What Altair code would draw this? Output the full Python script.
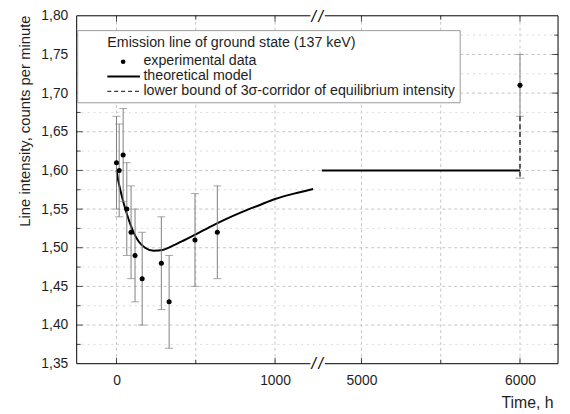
import altair as alt
import pandas as pd

# ---------------- data ----------------
exp_time = [0, 17, 42, 65, 92, 117, 162, 283, 332, 495, 636, 6000]
exp_intensity = [1.61, 1.60, 1.62, 1.55, 1.52, 1.49, 1.46, 1.48, 1.43, 1.51, 1.52, 1.71]
exp_error = [0.06, 0.06, 0.06, 0.06, 0.06, 0.06, 0.06, 0.06, 0.06, 0.06, 0.06, 0.04]

model_time = [0, 10, 25, 45, 65, 90, 110, 140, 180, 235, 290, 350, 430, 515,
              600, 680, 790, 900, 1000, 1120, 1240]
model_intensity = [1.600, 1.588, 1.574, 1.558, 1.544, 1.529, 1.519, 1.508, 1.500,
                   1.496, 1.497, 1.502, 1.510, 1.519, 1.528, 1.536, 1.546, 1.555,
                   1.563, 1.570, 1.576]

equilibrium_time = [4750, 6000]
equilibrium_intensity = [1.60, 1.60]

bound_time = [6000, 6000]
bound_intensity = [1.67, 1.59]

x_major_ticks = [0, 1000, 5000, 6000]
x_minor_ticks = [500, 5500]
y_major_ticks = [1.35, 1.40, 1.45, 1.50, 1.55, 1.60, 1.65, 1.70, 1.75, 1.80]
y_minor_ticks = [1.375, 1.425, 1.475, 1.525, 1.575, 1.625, 1.675, 1.725, 1.775]

legend_title = "Emission line of ground state (137 keV)"
legend_labels = ["experimental data", "theoretical model",
                 "lower bound of 3\u03c3-corridor of equilibrium intensity"]

# ---------------- broken x axis: map time to display coordinate ----------------
SHIFT = 3455          # hours removed by the axis break


def disp(t):
    return t - SHIFT if t > 3000 else t


DMIN, DMAX = -251, 2785
BREAK_L, BREAK_R, BREAK_C = 1223, 1314, 1266
YMIN, YMAX = y_major_ticks[0], y_major_ticks[-1]

FONT = "Liberation Sans"
TXT = "#1e1e1e"
GRID = "#c4c4c4"
ERR = "#808080"
LEG_FS = 14.4

xs = alt.Scale(domain=[DMIN, DMAX], nice=False, zero=False)
ys = alt.Scale(domain=[YMIN, YMAX], nice=False, zero=False)

x_axis = alt.Axis(
    values=[disp(t) for t in x_major_ticks],
    labelExpr=f"datum.value > 1300 ? format(datum.value + {SHIFT}, 'd') : format(datum.value, 'd')",
    grid=False, ticks=False, domain=False, labelFlush=False, labelOverlap=False,
    labelPadding=10, labelFont=FONT, labelFontSize=14, labelColor=TXT,
    title="Time, h", titleFont=FONT, titleFontSize=16, titleFontWeight="normal",
    titleColor=TXT, titleX=482, titleY=39, titleAlign="right", titleBaseline="middle",
)
y_axis = alt.Axis(
    values=y_major_ticks,
    labelExpr="replace(format(datum.value, '.2f'), '.', ',')",
    grid=False, ticks=False, domain=False, labelFlush=False, labelOverlap=False,
    labelPadding=9, labelFont=FONT, labelFontSize=14, labelColor=TXT,
    title="Line intensity, counts per minute", titleFont=FONT, titleFontSize=15,
    titleFontWeight="normal", titleColor=TXT, titleX=-53, titleY=106,
    titleAngle=270, titleAlign="center", titleBaseline="middle",
)


def X(field="d"):
    return alt.X(f"{field}:Q", scale=xs, axis=x_axis)


def Y(field="v"):
    return alt.Y(f"{field}:Q", scale=ys, axis=y_axis)


# ---------------- tables ----------------
pts = pd.DataFrame({
    "d": [disp(t) for t in exp_time],
    "v": exp_intensity,
    "lo": [v - e for v, e in zip(exp_intensity, exp_error)],
    "hi": [v + e for v, e in zip(exp_intensity, exp_error)],
})
model = pd.DataFrame({"d": [disp(t) for t in model_time], "v": model_intensity})
equil = pd.DataFrame({"d": [disp(t) for t in equilibrium_time], "v": equilibrium_intensity})
bound = pd.DataFrame({"d": [disp(t) for t in bound_time], "v": bound_intensity})
bound_cap = bound.iloc[[1]]

vgrid = pd.DataFrame({"d": [disp(t) for t in x_major_ticks + x_minor_ticks]})
hgrid_major = pd.DataFrame({"v": y_major_ticks[1:-1]})
hgrid_minor = pd.DataFrame({"v": y_minor_ticks})

frame = pd.DataFrame({
    "d": [DMIN, BREAK_R, DMIN, BREAK_R, DMIN, DMAX],
    "d2": [BREAK_L, DMAX, BREAK_L, DMAX, DMIN, DMAX],
    "v": [YMIN, YMIN, YMAX, YMAX, YMIN, YMIN],
    "v2": [YMIN, YMIN, YMAX, YMAX, YMAX, YMAX],
})

xt_major = pd.DataFrame({"d": [disp(t) for t in x_major_ticks]})
xt_minor = pd.DataFrame({"d": [disp(t) for t in x_minor_ticks]})
yt_major = pd.DataFrame({"v": y_major_ticks[1:-1]})
yt_minor = pd.DataFrame({"v": y_minor_ticks})
break_bottom = pd.DataFrame({"d": [BREAK_C], "v": [YMIN]})
break_top = pd.DataFrame({"d": [BREAK_C], "v": [YMAX]})
one = pd.DataFrame({"k": [0]})

layers = []

# grid
layers.append(alt.Chart(vgrid).mark_rule(color=GRID, strokeDash=[3, 3], strokeWidth=1).encode(x=X()))
layers.append(alt.Chart(hgrid_minor).mark_rule(color="#dadada", strokeDash=[2, 4], strokeWidth=1).encode(y=Y()))
layers.append(alt.Chart(hgrid_major).mark_rule(color=GRID, strokeDash=[3, 3], strokeWidth=1).encode(y=Y()))

# model curve and equilibrium level
layers.append(alt.Chart(model).mark_line(color="black", strokeWidth=2, interpolate="monotone").encode(x=X(), y=Y()))
layers.append(alt.Chart(equil).mark_line(color="black", strokeWidth=2).encode(x=X(), y=Y()))

# error bars
layers.append(alt.Chart(pts).mark_rule(color=ERR, strokeWidth=1).encode(x=X(), y=Y("lo"), y2=alt.Y2("hi")))
layers.append(
    alt.Chart(pts).transform_fold(["lo", "hi"], as_=["which", "cap"])
    .mark_tick(orient="horizontal", size=8, thickness=1, color=ERR)
    .encode(x=X(), y=Y("cap"))
)

# 3 sigma lower bound
layers.append(alt.Chart(bound).mark_line(color="#3a3a3a", strokeWidth=1.6, strokeDash=[5, 3]).encode(x=X(), y=Y()))
layers.append(alt.Chart(bound_cap).mark_tick(orient="horizontal", size=9, thickness=1, color=ERR).encode(x=X(), y=Y()))

# experimental points
layers.append(alt.Chart(pts).mark_circle(size=26, color="black", opacity=1).encode(x=X(), y=Y()))

# frame with break
layers.append(alt.Chart(frame).mark_rule(color="black", strokeWidth=1).encode(
    x=X(), x2=alt.X2("d2"), y=Y(), y2=alt.Y2("v2")))

# inward ticks
layers.append(alt.Chart(xt_major.assign(v=YMIN)).mark_tick(orient="vertical", size=6, thickness=1, yOffset=-3, color="black").encode(x=X(), y=Y()))
layers.append(alt.Chart(xt_major.assign(v=YMAX)).mark_tick(orient="vertical", size=6, thickness=1, yOffset=3, color="black").encode(x=X(), y=Y()))
layers.append(alt.Chart(xt_minor.assign(v=YMIN)).mark_tick(orient="vertical", size=4, thickness=1, yOffset=-2, color="black").encode(x=X(), y=Y()))
layers.append(alt.Chart(xt_minor.assign(v=YMAX)).mark_tick(orient="vertical", size=4, thickness=1, yOffset=2, color="black").encode(x=X(), y=Y()))
layers.append(alt.Chart(yt_major.assign(d=DMIN)).mark_tick(orient="horizontal", size=6, thickness=1, xOffset=3, color="black").encode(x=X(), y=Y()))
layers.append(alt.Chart(yt_major.assign(d=DMAX)).mark_tick(orient="horizontal", size=6, thickness=1, xOffset=-3, color="black").encode(x=X(), y=Y()))
layers.append(alt.Chart(yt_minor.assign(d=DMIN)).mark_tick(orient="horizontal", size=4, thickness=1, xOffset=2, color="black").encode(x=X(), y=Y()))
layers.append(alt.Chart(yt_minor.assign(d=DMAX)).mark_tick(orient="horizontal", size=4, thickness=1, xOffset=-2, color="black").encode(x=X(), y=Y()))

# axis break marks
for dx in (-3.5, 3.5):
    layers.append(alt.Chart(break_bottom).mark_text(
        text="/", font=FONT, fontSize=16, fontStyle="italic", dx=dx,
        align="center", baseline="middle", color="black").encode(x=X(), y=Y()))
    layers.append(alt.Chart(break_top).mark_text(
        text="/", font=FONT, fontSize=16, fontStyle="italic", dx=dx, dy=1.5,
        align="center", baseline="middle", color="black").encode(x=X(), y=Y()))

# legend (annotation)
layers.append(alt.Chart(one).mark_rect(fill="white", stroke="#9a9a9a", strokeWidth=1).encode(
    x=alt.value(1), x2=alt.value(388), y=alt.value(15), y2=alt.value(88)))
layers.append(alt.Chart(one).mark_text(
    text=legend_title, font=FONT, fontSize=LEG_FS, color=TXT, align="left", baseline="middle").encode(
    x=alt.value(31), y=alt.value(28)))
for i, lab in enumerate(legend_labels):
    layers.append(alt.Chart(one).mark_text(
        text=lab, font=FONT, fontSize=LEG_FS, color=TXT, align="left", baseline="middle").encode(
        x=alt.value(67.5), y=alt.value(46 + 15.3 * i)))
layers.append(alt.Chart(one).mark_circle(size=22, color="black", opacity=1).encode(
    x=alt.value(47), y=alt.value(46.5)))
layers.append(alt.Chart(one).mark_rule(color="black", strokeWidth=2).encode(
    x=alt.value(31), x2=alt.value(64), y=alt.value(61.5)))
layers.append(alt.Chart(one).mark_rule(color="#3a3a3a", strokeWidth=1.3, strokeDash=[4, 3]).encode(
    x=alt.value(31), x2=alt.value(64), y=alt.value(76.5)))

chart = alt.layer(*layers).properties(
    width=487,
    height=352,
    padding={"left": 69.5, "top": 5.5, "right": 4, "bottom": 48},
    autosize=alt.AutoSizeParams(type="none"),
    background="white",
).configure_view(stroke=None)

chart.save("out.html", embed_options={"renderer": "svg", "actions": False})
